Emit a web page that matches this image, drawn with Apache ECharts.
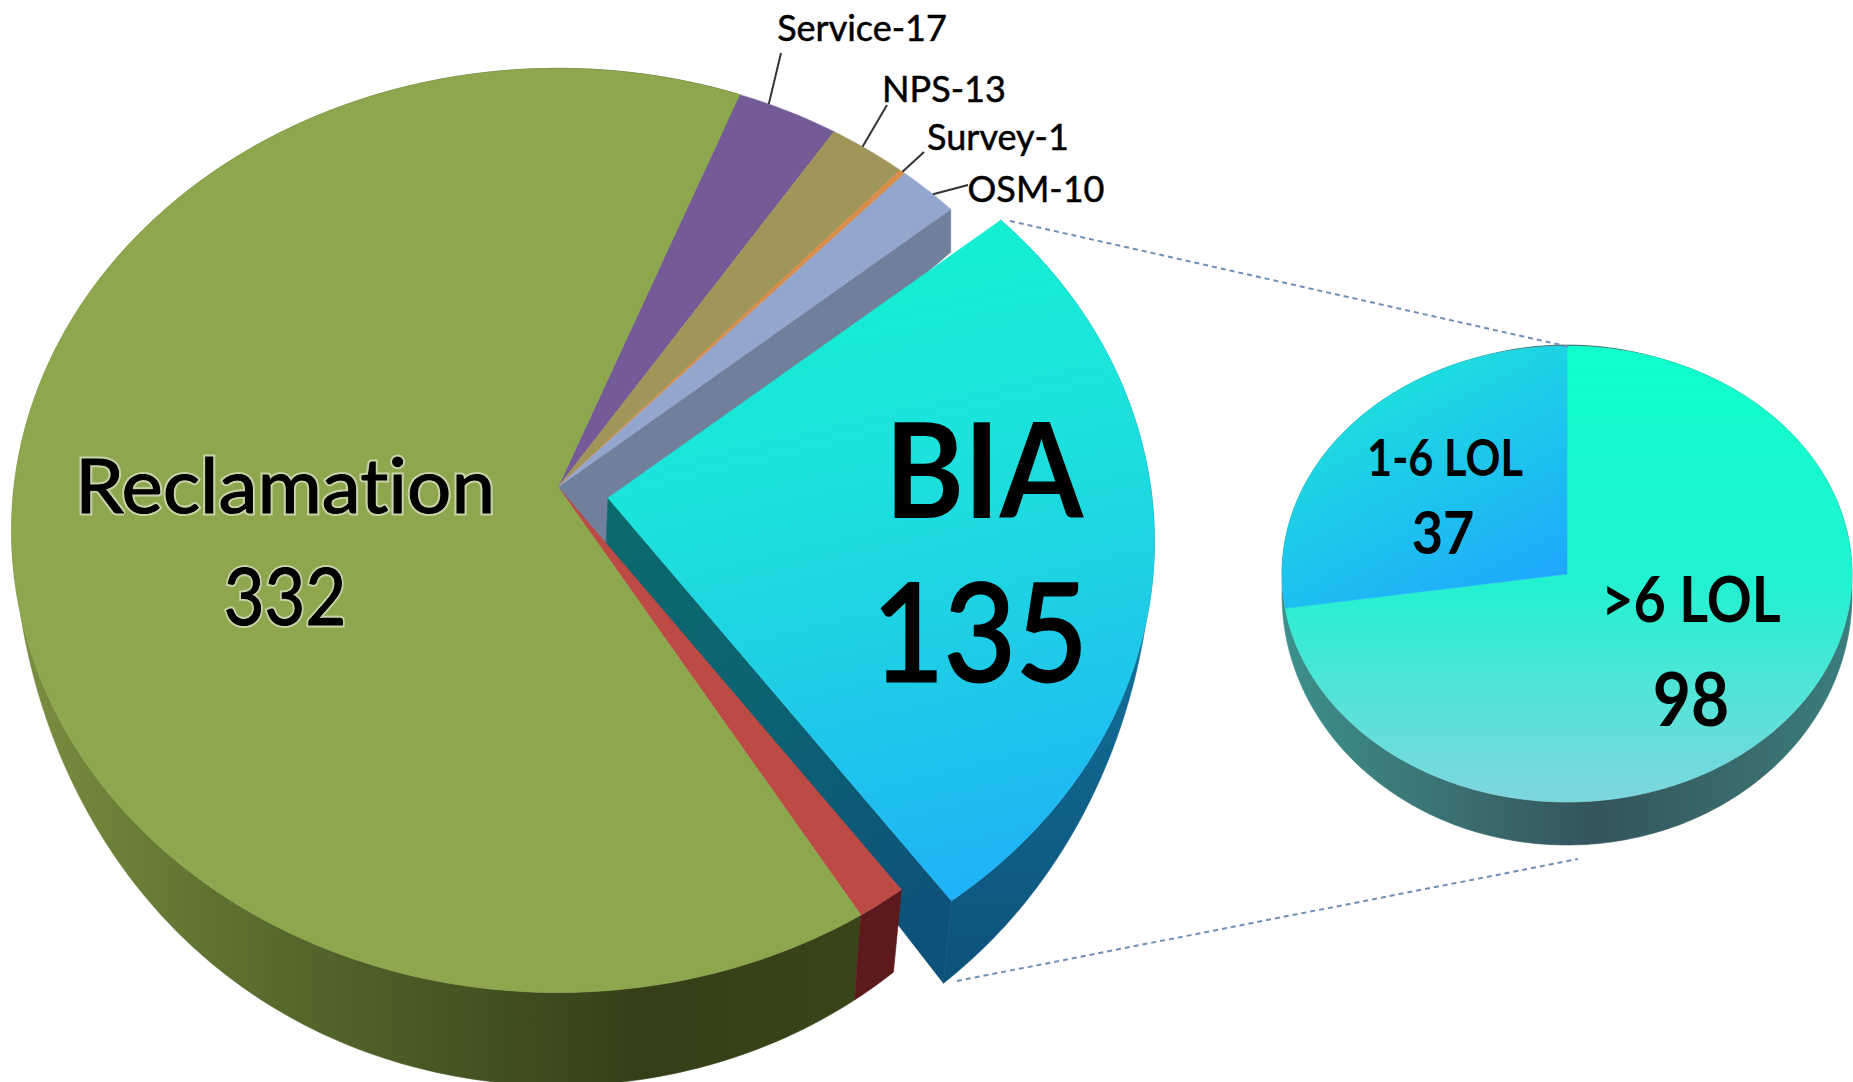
<!DOCTYPE html>
<html>
<head>
<meta charset="utf-8">
<title>Pie of pie</title>
<script src="https://cdn.jsdelivr.net/npm/echarts@6/dist/echarts.min.js"></script>
<style>
html, body { margin: 0; padding: 0; background: #fff; }
#chart { width: 1853px; height: 1082px; }
#chart text { font-variant-ligatures: none !important; }
</style>
</head>
<body>
<div id="chart"></div>
<script>
// main pie, clockwise from the Service slice. The red slice has no label, its value is estimated
const mainNames = ['Service', 'NPS', 'Survey', 'OSM', 'BIA', 'Unlabeled', 'Reclamation']
const mainValues = [17, 13, 1, 10, 135, 7, 332]
const mainColors = ['#745b97', '#a0965a', '#d98d4a', '#93a6ce', '#1ce3dc', '#bc4a45', '#8ca74e']

// small pie, breakdown of BIA
const subNames = ['>6 LOL', '1-6 LOL']
const subValues = [98, 37]

// perspective disc: k tilts it, d0/d1/d2 give the wall height, narrow/bulge pull the lower rim inwards
const mainPie = { cx: 558, cy: 487, rx: 544, ry: 458, k: 0.094, d0: 51, d1: 24, d2: 18, narrow: 0.01, bulge: 0.1 }
const biaPie = Object.assign({}, mainPie, { cx: 608, cy: 498, narrow: 0.01, bulge: 0.1 })
const subPie = { cx: 1567, cy: 574, rx: 285, ry: 228, k: 0, d0: 21, d1: 22, d2: 0, narrow: 0, bulge: 0 }
const startAngle = 21.3

function grad(x1, y1, x2, y2, stops) {
  return new echarts.graphic.LinearGradient(x1, y1, x2, y2,
    stops.map(s => ({ offset: s[0], color: s[1] })), true)
}

// point on the rim at a clockwise angle from the top
function rim(o, deg) {
  const a = deg * Math.PI / 180
  const u = Math.sin(a)
  const v = -Math.cos(a)
  const w = 1 - o.k * v
  return { x: o.cx + o.rx * u / w, y: o.cy + o.ry * v / w, v: v }
}
function lower(o, p) {
  const f = Math.max(p.v, 0)
  const s = 1 - o.narrow * f - o.bulge * f * (1 - f)
  return [o.cx + (p.x - o.cx) * s, p.y + o.d0 + o.d1 * p.v + o.d2 * p.v * p.v]
}
function arc(o, a0, a1) {
  const list = []
  const n = Math.ceil(Math.abs(a1 - a0))
  for (let i = 0; i <= n; i++) list.push(rim(o, a0 + (a1 - a0) * i / n))
  return list
}
function topFace(o, a0, a1) {
  return [[o.cx, o.cy]].concat(arc(o, a0, a1).map(p => [p.x, p.y]))
}
function sideFace(o, a0, a1) {
  const ring = arc(o, a0, a1)
  return ring.map(p => [p.x, p.y]).concat(ring.map(p => lower(o, p)).reverse())
}

// angle ranges from the values
function ranges(values, start) {
  const total = values.reduce((a, b) => a + b, 0)
  let at = start
  return values.map(v => {
    const r = [at, at + v / total * 360]
    at = r[1]
    return r
  })
}
const mainRanges = ranges(mainValues, startAngle)
const subRanges = ranges(subValues, 0)
const biaIndex = mainNames.indexOf('BIA')
const redIndex = mainNames.indexOf('Unlabeled')
const osmIndex = mainNames.indexOf('OSM')
const recIndex = mainNames.indexOf('Reclamation')

const biaFill = () => grad(800, 217, 960, 895, [[0, '#12f2cf'], [0.35, '#1ce3dc'], [0.62, '#1fd0e4'], [1, '#1eb2f7']])
const greenWall = () => grad(12, 0, 890, 0, [[0, '#7a9040'], [0.3, '#566a2c'], [0.72, '#343f18'], [1, '#3b4519']])

const pieces = []
function poly(points, fill) { pieces.push({ points, fill }) }
function word(text, x, y, size, weight, sx, thick, halo) {
  if (halo) pieces.push({ text, x, y, size, weight, sx, stroke: halo, width: 5 })
  pieces.push({ text, x, y, size, weight, sx, stroke: '#000', width: thick })
}
function stroke(points, dash) { pieces.push({ line: points, dash }) }

// cut face of the main pie, seen through the gap left by BIA
const osmEnd = rim(mainPie, mainRanges[osmIndex][1])
poly([[mainPie.cx, mainPie.cy], [osmEnd.x, osmEnd.y], lower(mainPie, osmEnd), [mainPie.cx + 48, mainPie.cy + 60]], '#70809b')

// BIA walls
const biaR = mainRanges[biaIndex]
const biaEnd = rim(biaPie, biaR[1])
poly([[biaPie.cx, biaPie.cy], [biaEnd.x, biaEnd.y], lower(biaPie, biaEnd), [biaPie.cx - 2, biaPie.cy + biaPie.d0]],
  grad(610, 500, 950, 900, [[0, '#0b6a6c'], [0.5, '#0c6272'], [1, '#0d527a']]))
poly(sideFace(biaPie, biaR[0], biaR[1]), grad(0, 980, 0, 500, [[0, '#0d527a'], [1, '#147aa4']]))

// main pie walls, then tops
poly(sideFace(mainPie, mainRanges[recIndex][0], mainRanges[recIndex][1]), greenWall())
poly(sideFace(mainPie, mainRanges[redIndex][0], mainRanges[redIndex][1]), '#5c1a1c')
mainValues.forEach((v, i) => {
  if (i !== biaIndex) poly(topFace(mainPie, mainRanges[i][0], mainRanges[i][1]), mainColors[i])
})
poly(topFace(biaPie, biaR[0], biaR[1]), biaFill())

// small pie
poly(sideFace(subPie, 0, 360), grad(1283, 0, 1853, 0, [[0, '#3c918c'], [0.35, '#3a6a6c'], [0.55, '#33555b'], [0.85, '#3a6f70'], [1, '#3a7f7e']]))
poly(topFace(subPie, subRanges[0][0], subRanges[0][1]), grad(0, 347, 0, 804, [[0, '#0fffcb'], [0.5, '#20f2d0'], [1, '#80d6de']]))
poly(topFace(subPie, subRanges[1][0], subRanges[1][1]), grad(1350, 350, 1500, 630, [[0, '#1de8d8'], [1, '#1ea4ff']]))

// connectors between the pies
stroke([[1010, 221], [1570, 347]], true)
stroke([[957, 981], [1578, 859]], true)

// leader lines run from the slice rim to the label
const leaders = [
  { name: 'Service', t: 0.3, to: [781, 53], at: [862, 27] },
  { name: 'NPS', t: 0.42, to: [887, 105], at: [944, 88] },
  { name: 'Survey', t: 0.5, to: [924, 152], at: [998, 136] },
  { name: 'OSM', t: 0.6, to: [968, 185], at: [1036, 188] }
]
leaders.forEach(l => {
  const i = mainNames.indexOf(l.name)
  const p = rim(mainPie, mainRanges[i][0] + (mainRanges[i][1] - mainRanges[i][0]) * l.t)
  stroke([[p.x, p.y], l.to], false)
  word(l.name + '-' + mainValues[i], l.at[0], l.at[1], 36, 'normal', 1, 0.5)
})

word(mainNames[recIndex], 285, 483, 76, 'normal', 1.03, 1, 'rgba(255,255,255,0.5)')
word(String(mainValues[recIndex]), 285, 594, 79, 'normal', 0.89, 1, 'rgba(255,255,255,0.5)')
word(mainNames[biaIndex], 984, 467, 132, 'bold', 0.91, 0)
word(String(mainValues[biaIndex]), 980, 629, 136, 'normal', 0.91, 3)
word(subNames[1], 1445, 456, 51, 'bold', 0.85, 0)
word(String(subValues[1]), 1443, 531, 60, 'bold', 0.9, 0)
word(subNames[0], 1691, 597, 64, 'bold', 0.87, 0)
word(String(subValues[0]), 1691, 697, 75, 'bold', 0.88, 0)

const chart = echarts.init(document.getElementById('chart'), null, { renderer: 'svg' })
chart.setOption({
  animation: false,
  backgroundColor: '#fff',
  series: [{
    type: 'custom',
    coordinateSystem: 'none',
    silent: true,
    data: pieces.map((p, i) => i),
    renderItem(params) {
      const p = pieces[params.dataIndex]
      if (p.line) {
        return {
          type: 'polyline',
          shape: { points: p.line },
          style: p.dash
            ? { stroke: '#6f8fb4', lineWidth: 2, lineDash: [5, 4], fill: null }
            : { stroke: '#333', lineWidth: 2, fill: null }
        }
      }
      if (p.text) {
        const style = {
          x: 0,
          y: 0,
          text: p.text,
          fill: '#000',
          font: p.weight + ' ' + p.size + 'px Lato',
          textAlign: 'center',
          textVerticalAlign: 'middle'
        }
        if (p.width) {
          style.stroke = p.stroke
          style.lineWidth = p.width
        }
        return { type: 'text', x: p.x, y: p.y, scaleX: p.sx, style: style }
      }
      return {
        type: 'polygon',
        shape: { points: p.points },
        style: { fill: p.fill, stroke: p.fill, lineWidth: 0.6 }
      }
    }
  }]
})
</script>
</body>
</html>
